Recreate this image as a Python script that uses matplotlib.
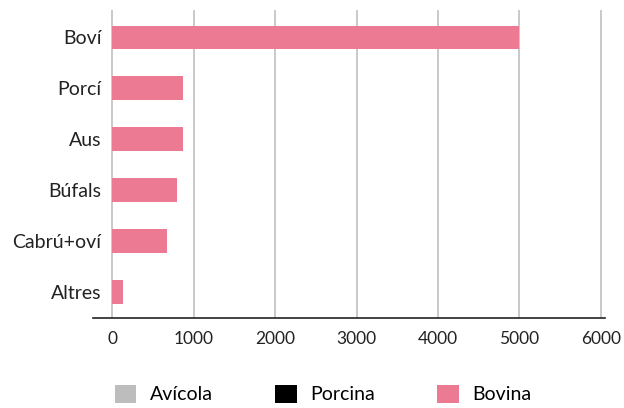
import matplotlib.pyplot as plt
from matplotlib.patches import Patch

plt.rcParams['font.family'] = ['Lato', 'DejaVu Sans']

# data
categories = ['Boví', 'Porcí', 'Aus', 'Búfals', 'Cabrú+oví', 'Altres']
values = [5000, 870, 870, 800, 675, 135]
legend_labels = ['Avícola', 'Porcina', 'Bovina']
legend_colors = ['#bdbdbd', '#000000', '#ec7a93']
xticks = [0, 1000, 2000, 3000, 4000, 5000, 6000]

fig = plt.figure(figsize=(6.24, 4.08), dpi=100)
ax = fig.add_axes([93/624, 90/408, 512/624, 308/408])

pos = list(range(len(categories)))
ax.barh(pos, values, height=0.47, color='#ec7a93', zorder=3)
ax.set_ylim(len(categories) - 1 + 0.52, -0.54)
ax.set_xlim(-235, 6050)

ax.set_yticks(pos)
ax.set_yticklabels(categories, fontsize=14, color='#222222')
ax.set_xticks(xticks)
ax.set_xticklabels([str(t) for t in xticks], fontsize=12.5, color='#222222')
ax.tick_params(axis='y', length=0, pad=-6)
ax.tick_params(axis='x', length=0, pad=9)

ax.grid(axis='x', color='#c0c0c0', linewidth=1.2, zorder=0)
for s in ['top', 'right', 'left']:
    ax.spines[s].set_visible(False)
ax.spines['bottom'].set_color('#222222')
ax.spines['bottom'].set_linewidth(1.2)

handles = [Patch(facecolor=c, edgecolor='none') for c in legend_colors]
fig.legend(handles, legend_labels, loc='center', bbox_to_anchor=(0.518, 14/408),
           ncol=3, frameon=False, fontsize=14, handlelength=1.1, handleheight=1.1,
           handletextpad=0.7, columnspacing=3.2)

fig.savefig('out.png', dpi=100)
